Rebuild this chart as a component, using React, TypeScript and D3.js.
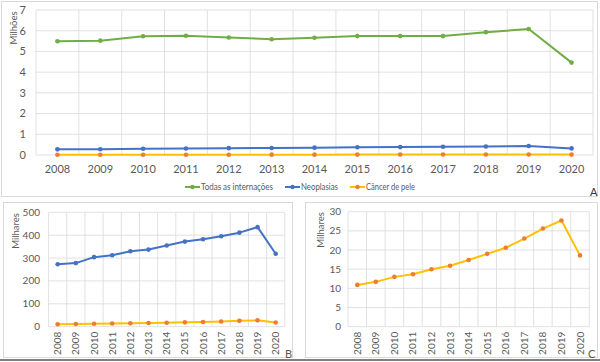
import * as d3 from 'd3';

const years = ['2008', '2009', '2010', '2011', '2012', '2013', '2014', '2015', '2016', '2017', '2018', '2019', '2020'];
// Todas as internações, em milhões
const todas = [5.49, 5.52, 5.73, 5.76, 5.67, 5.59, 5.66, 5.74, 5.74, 5.74, 5.93, 6.08, 4.46];
// Neoplasias, em milhares
const neoplasias = [273, 278, 304, 312, 330, 337, 355, 372, 382, 395, 411, 435, 319];
// Câncer de pele, em milhares
const cancerPele = [10.9, 11.7, 13.0, 13.7, 15.0, 15.9, 17.4, 19.0, 20.6, 23.0, 25.6, 27.7, 18.6];

const ticksA = [0, 1, 2, 3, 4, 5, 6, 7];
const ticksB = [0, 100, 200, 300, 400, 500];
const ticksC = [0, 5, 10, 15, 20, 25, 30];

const GREEN = '#70ad47';
const BLUE = '#4472c4';
const GOLD = '#ffc000';
const ORANGE = '#ed7d31';
const GRID = '#d9d9d9';
const TXT = '#595959';
const FONT = 'Lato, "Open Sans", sans-serif';

type Series = { values: number[], line: string, marker: string, width: number };

function Panel(props: {
    x0: number, x1: number, y0: number, y1: number,
    ticks: number[], series: Series[], title: string, titleX: number, titleY: number,
    rotate: boolean, labelRight: number, fs: number,
}) {
    const x = d3.scaleBand().domain(years).range([props.x0, props.x1]);
    const y = d3.scaleLinear().domain([0, props.ticks[props.ticks.length - 1]]).range([props.y1, props.y0]);
    const cx = (yr: string) => (x(yr) ?? 0) + x.bandwidth() / 2;
    const line = d3.line<number>().x((_, i) => cx(years[i])).y(v => y(v));
    return <g>
        {props.ticks.map(t => <line key={'h' + t} x1={props.x0} x2={props.x1} y1={y(t)} y2={y(t)} stroke={GRID} strokeWidth={0.8} />)}
        {[...years.map(yr => x(yr) ?? 0), props.x1].map((v, i) => <line key={'v' + i} x1={v} x2={v} y1={props.y0} y2={props.y1} stroke={GRID} strokeWidth={0.8} />)}
        {props.ticks.map(t => <text key={'t' + t} x={props.labelRight} y={y(t)} dy="0.35em" textAnchor="end" fontSize={props.fs} fill={TXT}>{t}</text>)}
        {years.map(yr => props.rotate
            ? <text key={yr} transform={`translate(${cx(yr)},${props.y1 + 5}) rotate(-90)`} dy="0.35em" textAnchor="end" fontSize={props.fs} fill={TXT}>{yr}</text>
            : <text key={yr} x={cx(yr)} y={props.y1 + 14} dy="0.35em" textAnchor="middle" fontSize={props.fs} fill={TXT}>{yr}</text>)}
        <text transform={`translate(${props.titleX},${props.titleY}) rotate(-90)`} dy="0.35em" textAnchor="middle" fontSize={9.5} fill={TXT}>{props.title}</text>
        {props.series.map((s, si) => <g key={si}>
            <path d={line(s.values) ?? ''} fill="none" stroke={s.line} strokeWidth={s.width} strokeLinejoin="round" />
            {s.values.map((v, i) => <circle key={i} cx={cx(years[i])} cy={y(v)} r={2.3} fill={s.marker} />)}
        </g>)}
    </g>;
}

function LegendItem(props: { x: number, y: number, line: string, marker: string, label: string, w: number }) {
    return <g>
        <line x1={props.x} x2={props.x + 15} y1={props.y} y2={props.y} stroke={props.line} strokeWidth={2} />
        <circle cx={props.x + 7.5} cy={props.y} r={2.2} fill={props.marker} />
        <text x={props.x + 16} y={props.y} dy="0.35em" fontSize={9.5} fill={TXT}
            textLength={props.w} lengthAdjust="spacingAndGlyphs">{props.label}</text>
    </g>;
}

export default function App() {
    const neoM = neoplasias.map(v => v / 1000);
    const peleM = cancerPele.map(v => v / 1000);
    return <svg width={600} height={362} style={{ position: 'absolute', left: 0, top: 0, background: '#fff' }} fontFamily={FONT}>
        <rect x={0} y={0} width={600} height={362} fill="#fff" />
        {/* frames */}
        <rect x={1.5} y={1.5} width={596} height={195} fill="none" stroke="#d9d9d9" />
        <rect x={3.5} y={202.5} width={289} height={155} fill="none" stroke="#d9d9d9" />
        <rect x={305.5} y={202.5} width={292} height={155} fill="none" stroke="#d9d9d9" />
        <line x1={0} x2={600} y1={360} y2={360} stroke="#7f7f7f" strokeWidth={2} />

        <Panel x0={36} x1={593} y0={10} y1={155} ticks={ticksA} title="Milhões" titleX={14} titleY={28}
            rotate={false} labelRight={26} fs={11}
            series={[
                { values: todas, line: GREEN, marker: GREEN, width: 2 },
                { values: neoM, line: BLUE, marker: BLUE, width: 2 },
                { values: peleM, line: GOLD, marker: ORANGE, width: 2 },
            ]} />
        <LegendItem x={185} y={187} line={GREEN} marker={GREEN} label="Todas as internações" w={72} />
        <LegendItem x={285} y={187} line={BLUE} marker={BLUE} label="Neoplasias" w={37} />
        <LegendItem x={350} y={187} line={GOLD} marker={ORANGE} label="Câncer de pele" w={49} />
        <text x={590} y={192} dy="0.35em" fontSize={11} fill="#333">A</text>

        <Panel x0={48.6} x1={284.8} y0={212.3} y1={326.7} ticks={ticksB} title="Milhares" titleX={16} titleY={231}
            rotate={true} labelRight={40} fs={10}
            series={[
                { values: neoplasias, line: BLUE, marker: BLUE, width: 2 },
                { values: cancerPele, line: GOLD, marker: ORANGE, width: 2 },
            ]} />
        <text x={285} y={354} dy="0.35em" fontSize={11} fill={TXT}>B</text>

        <Panel x0={348} x1={589.3} y0={211.7} y1={326.7} ticks={ticksC} title="Milhares" titleX={321} titleY={230}
            rotate={true} labelRight={341} fs={10}
            series={[
                { values: cancerPele, line: GOLD, marker: ORANGE, width: 2 },
            ]} />
        <text x={588} y={354} dy="0.35em" fontSize={11} fill={TXT}>C</text>
    </svg>;
}
